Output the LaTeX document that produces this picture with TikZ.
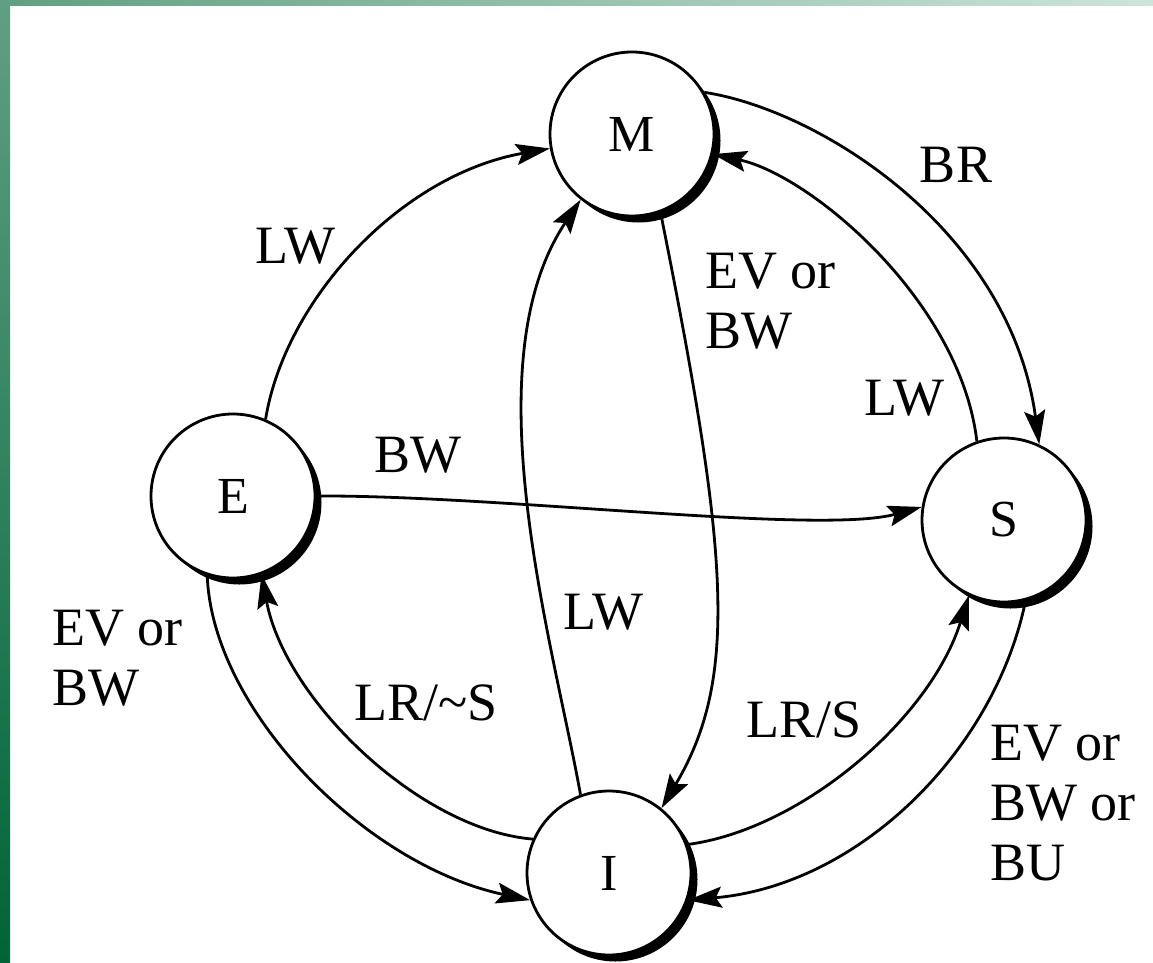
\documentclass[tikz,border=0pt]{standalone}
\usepackage{fontspec}
\setmainfont{Liberation Serif}
\usetikzlibrary{arrows.meta,shadows}
\definecolor{gTop}{RGB}{96,160,130}
\definecolor{gBot}{RGB}{0,100,55}
\definecolor{gLight}{RGB}{205,228,218}
\begin{document}
\begin{tikzpicture}[x=1pt,y=-1pt,
  state/.style={circle, draw, line width=2.8pt, fill=white, minimum size=164pt, inner sep=0pt,
    font=\fontsize{52}{56}\selectfont,
    drop shadow={shadow xshift=6.5pt, shadow yshift=-6.5pt, fill=black, opacity=1}},
  conn/.style={line width=2.8pt, -{Stealth[length=34pt,width=21pt,inset=6pt]}},
  lbl/.style={inner sep=0pt, font=\fontsize{54}{60}\selectfont}]
\useasboundingbox (0,0) rectangle (1153,963);
\fill[white] (0,0) rectangle (1153,963);
\shade[top color=gTop, bottom color=gBot] (0,0) rectangle (10,963);
\shade[left color=gTop, right color=gLight] (0,0) rectangle (1153,6);

\node[state] (M) at (632,134) {M};
\node[state] (E) at (233,496) {E};
\node[state] (S) at (1004,520) {S};
\node[state] (I) at (609,873) {I};

\draw[conn] (E.67) .. controls (285,300) and (400,175) .. (M.190);
\draw[conn] (M.30) .. controls (820,110) and (1010,230) .. (S.65);
\draw[conn] (S.109) .. controls (960,300) and (810,175) .. (M.-14);
\draw[conn] (M.-70) .. controls (729,554) and (739,678) .. (I.51);
\draw[conn] (I.110) .. controls (554,646) and (470,365) .. (M.-128);
\draw[conn] (E.0) .. controls (500,495) and (820,535) .. (S.171);
\draw[conn] (I.156) .. controls (420,830) and (285,700) .. (E.-70);
\draw[conn] (E.252) .. controls (212,710) and (365,865) .. (I.199);
\draw[conn] (I.20) .. controls (800,830) and (930,720) .. (S.245);
\draw[conn] (S.285) .. controls (995,750) and (860,885) .. (I.-19);

\node[lbl, anchor=base] (lEM) at (295,263) {LW};
\node[lbl, anchor=base] (lMS) at (956,182) {BR};
\node[lbl, anchor=base] (lSM) at (904,415) {LW};
\node[lbl, anchor=north west, align=left] (lMI) at (705,253) {EV or\\BW};
\node[lbl, anchor=base] (lES) at (418,472) {BW};
\node[lbl, anchor=base] (lIM) at (603,629) {LW};
\node[lbl, anchor=north west, align=left] (lEI) at (52,610) {EV or\\BW};
\node[lbl, anchor=base] (lIE) at (426,720) {LR/\textasciitilde S};
\node[lbl, anchor=base] (lIS) at (804,737) {LR/S};
\node[lbl, anchor=north west, align=left] (lSI) at (990,725) {EV or\\BW or\\BU};
\end{tikzpicture}
\end{document}
